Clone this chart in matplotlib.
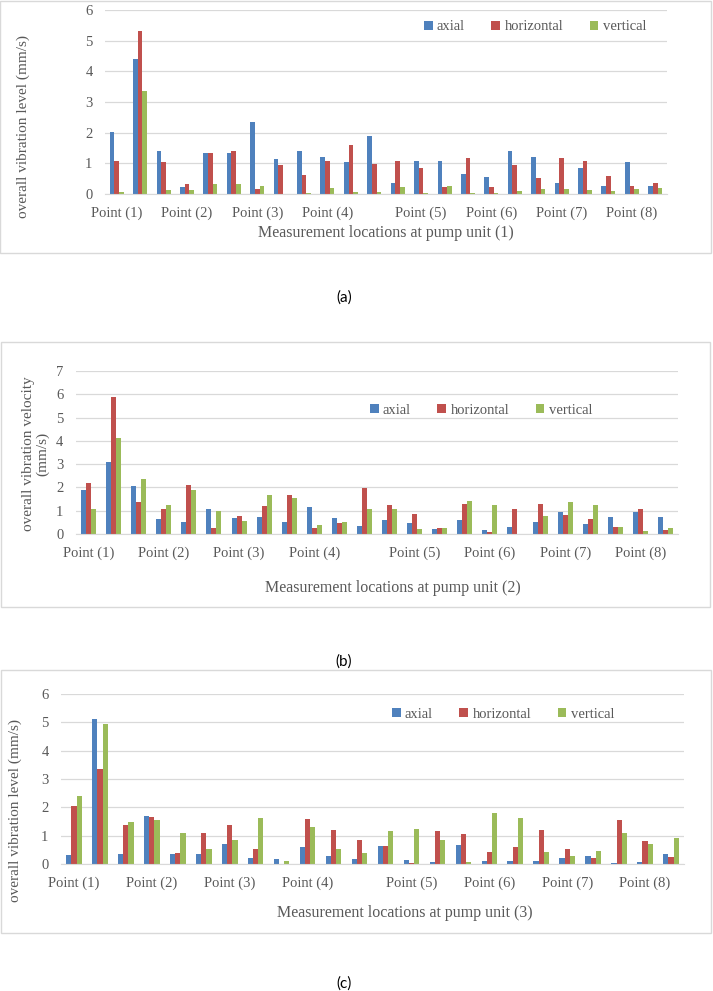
import numpy as np
import matplotlib.pyplot as plt
from matplotlib.patches import Rectangle

# values, 24 groups (8 points x 3 locations)
axial_1 = [2.01, 4.39, 1.39, 0.24, 1.35, 1.33, 2.36, 1.15, 1.40, 1.20, 1.05, 1.88,
           0.35, 1.08, 1.09, 0.65, 0.55, 1.40, 1.20, 0.35, 0.84, 0.25, 1.04, 0.25]
horizontal_1 = [1.09, 5.30, 1.03, 0.33, 1.34, 1.39, 0.15, 0.95, 0.62, 1.07, 1.60, 0.98,
                1.07, 0.84, 0.24, 1.17, 0.24, 0.95, 0.51, 1.16, 1.09, 0.58, 0.25, 0.36]
vertical_1 = [0.07, 3.35, 0.12, 0.13, 0.32, 0.34, 0.26, 0.01, 0.04, 0.20, 0.07, 0.05,
              0.23, 0.02, 0.25, 0.02, 0.02, 0.11, 0.17, 0.15, 0.14, 0.11, 0.17, 0.20]

axial_2 = [1.89, 3.10, 2.07, 0.66, 0.50, 1.09, 0.70, 0.71, 0.50, 1.16, 0.67, 0.33,
           0.59, 0.46, 0.23, 0.59, 0.17, 0.30, 0.53, 0.93, 0.44, 0.74, 0.93, 0.71]
horizontal_2 = [2.20, 5.89, 1.37, 1.06, 2.11, 0.26, 0.79, 1.21, 1.69, 0.26, 0.49, 1.96,
                1.26, 0.86, 0.26, 1.30, 0.10, 1.06, 1.29, 0.80, 0.66, 0.29, 1.07, 0.16]
vertical_2 = [1.09, 4.11, 2.36, 1.26, 1.87, 0.99, 0.54, 1.66, 1.54, 0.39, 0.53, 1.09,
              1.07, 0.23, 0.27, 1.40, 1.26, 0.00, 0.76, 1.37, 1.26, 0.29, 0.14, 0.27]

axial_3 = [0.33, 5.11, 0.34, 1.69, 0.35, 0.34, 0.72, 0.20, 0.19, 0.61, 0.29, 0.18,
           0.63, 0.15, 0.06, 0.66, 0.12, 0.11, 0.12, 0.20, 0.29, 0.02, 0.06, 0.34]
horizontal_3 = [2.04, 3.35, 1.36, 1.66, 0.39, 1.09, 1.37, 0.54, 0.00, 1.59, 1.21, 0.85,
                0.63, 0.04, 1.16, 1.06, 0.41, 0.61, 1.19, 0.52, 0.20, 1.54, 0.82, 0.23]
vertical_3 = [2.41, 4.94, 1.49, 1.55, 1.09, 0.54, 0.86, 1.62, 0.12, 1.30, 0.54, 0.38,
              1.15, 1.22, 0.85, 0.08, 1.80, 1.61, 0.41, 0.28, 0.46, 1.10, 0.72, 0.92]

series_names = ['axial', 'horizontal', 'vertical']
colors = ['#4F81BD', '#C0504D', '#9BBB59']
point_labels = ['Point (1)', 'Point (2)', 'Point (3)', 'Point (4)',
                'Point (5)', 'Point (6)', 'Point (7)', 'Point (8)']
label_pos = [0, 3, 6, 9, 13, 16, 19, 22]

W, H = 713, 991
serif = 'Liberation Serif'
txt_gray = '#595959'
grid_gray = '#D9D9D9'

fig = plt.figure(figsize=(W / 100, H / 100), dpi=100)


def px_rect(l, t, r, b):
    return [l / W, 1 - b / H, (r - l) / W, (b - t) / H]


def panel(box, area, ymax, data, ylabel, ylabel_xy, xtitle, xtitle_xy, leg_xy, cap, cap_y):
    # light frame around each chart
    bl, bt, br, bb = box
    fig.patches.append(Rectangle((bl / W, 1 - bb / H), (br - bl) / W, (bb - bt) / H,
                                 transform=fig.transFigure, fill=False,
                                 edgecolor=grid_gray, lw=1.0))
    ax = fig.add_axes(px_rect(*area))
    x = np.arange(len(data[0]))
    w = 0.2
    for k, vals in enumerate(data):
        ax.bar(x + (k - 1) * w, vals, w, color=colors[k], label=series_names[k])
    ax.set_xlim(-0.5, len(x) - 0.5)
    ax.set_ylim(0, ymax)
    ax.set_yticks(range(ymax + 1))
    ax.set_xticks(label_pos)
    ax.set_xticklabels(point_labels)
    ax.grid(axis='y', color=grid_gray, lw=0.9)
    ax.set_axisbelow(True)
    for s in ['top', 'right', 'left']:
        ax.spines[s].set_visible(False)
    ax.spines['bottom'].set_color(grid_gray)
    ax.tick_params(length=0, labelsize=10.5, labelcolor=txt_gray, pad=9)
    for t in ax.get_xticklabels() + ax.get_yticklabels():
        t.set_fontfamily(serif)
    fig.text(ylabel_xy[0] / W, 1 - ylabel_xy[1] / H, ylabel, rotation=90,
             ha='center', va='center', fontsize=11, color=txt_gray,
             family=serif, multialignment='center', linespacing=1.1)
    fig.text(xtitle_xy[0] / W, 1 - xtitle_xy[1] / H, xtitle, ha='center', va='center',
             fontsize=11.5, color=txt_gray, family=serif)
    ax.legend(loc='center', bbox_to_anchor=(leg_xy[0] / W, 1 - leg_xy[1] / H),
              bbox_transform=fig.transFigure, ncol=3, frameon=False,
              handlelength=0.6, handleheight=0.6, handletextpad=0.3,
              columnspacing=1.8, prop={'family': serif, 'size': 10.5},
              labelcolor=txt_gray)
    fig.text(344 / W, 1 - cap_y / H, cap, ha='center', va='center',
             fontsize=11, family='Lato', color='black')
    return ax


panel((0, 1, 711, 253), (105, 10, 667, 194), 6,
      [axial_1, horizontal_1, vertical_1],
      'overall vibration level (mm/s)', (23, 127),
      'Measurement locations at pump unit (1)', (386, 233),
      (535, 27), '(a)', 298)

panel((1, 342, 710, 607), (76, 371, 678, 534), 7,
      [axial_2, horizontal_2, vertical_2],
      'overall vibration velocity\n(mm/s)', (36, 454),
      'Measurement locations at pump unit (2)', (393, 588),
      (481, 410), '(b)', 662)

panel((1, 670, 711, 933), (61, 694, 684, 864), 6,
      [axial_3, horizontal_3, vertical_3],
      'overall vibration level (mm/s)', (15, 811),
      'Measurement locations at pump unit (3)', (405, 913),
      (503, 714), '(c)', 984)

fig.savefig('out.png', dpi=100)
